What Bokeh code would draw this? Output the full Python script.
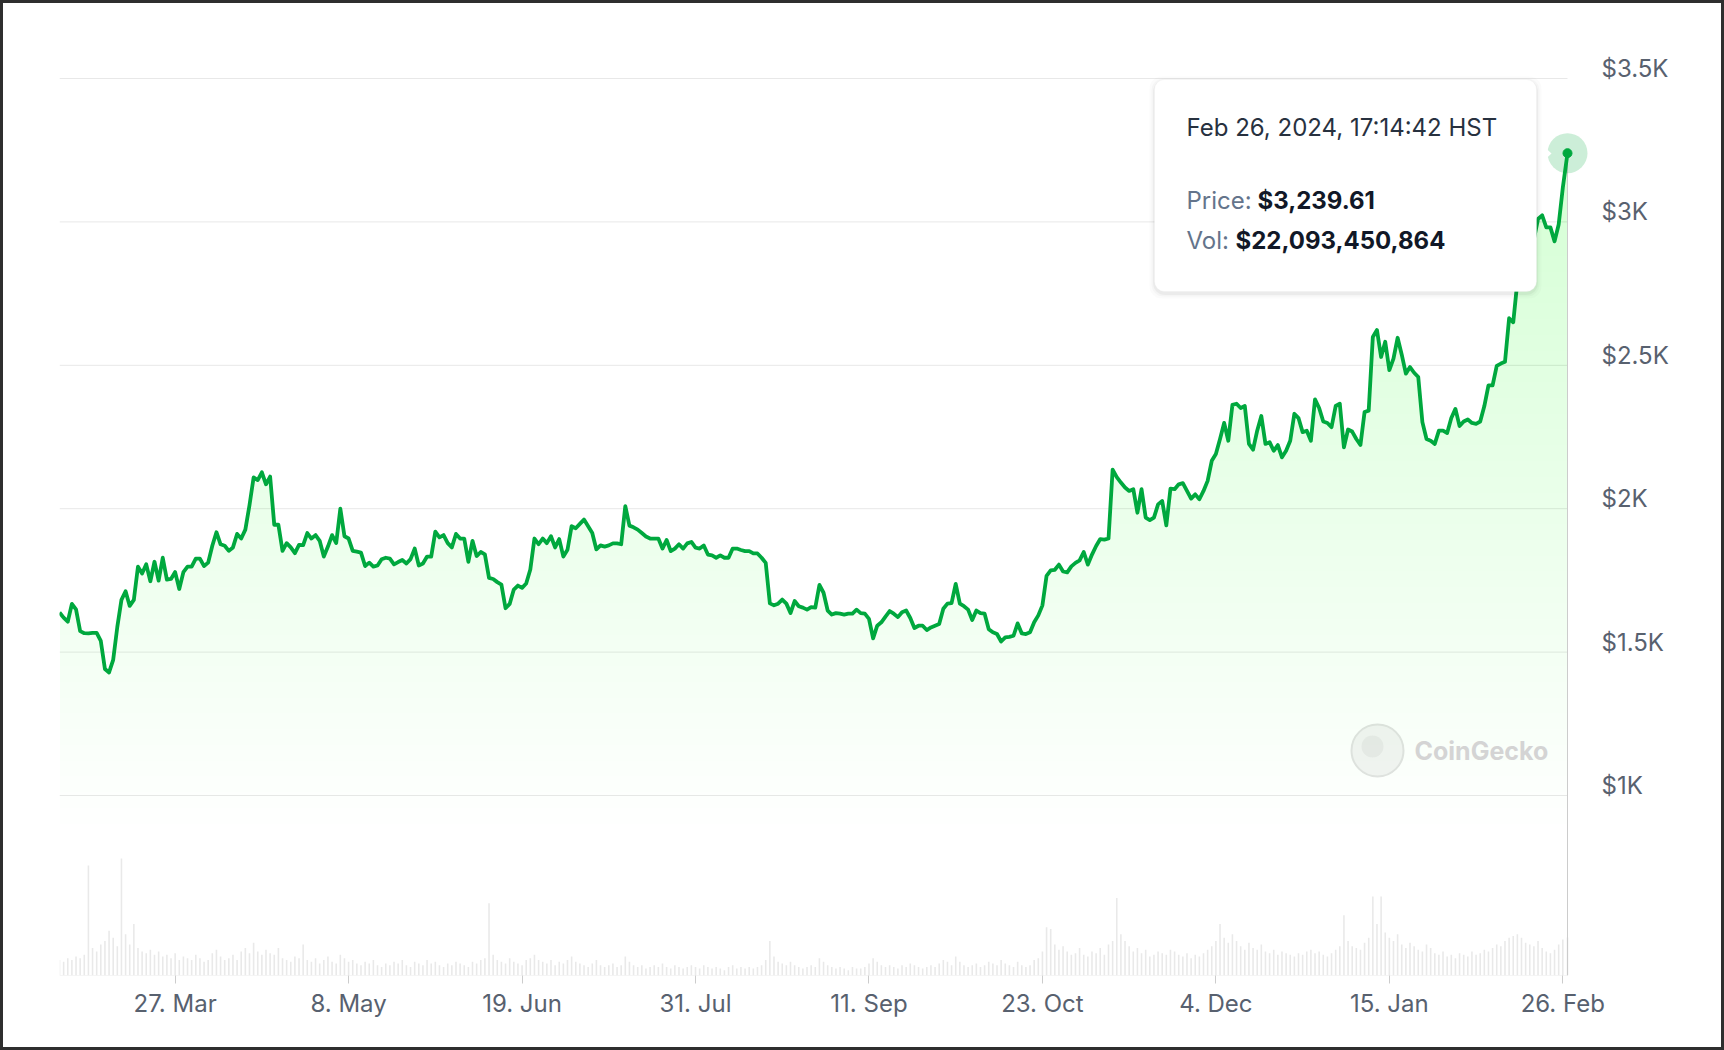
import numpy as np
from bokeh.plotting import figure
from bokeh.models import Range1d, FixedTicker, BoxAnnotation, Label, LinearAxis
from bokeh.embed import file_html
from bokeh.resources import INLINE

# ---------------- data ----------------
start_date = "2023-02-27"                 # first daily point (UTC)
last_stamp = "2024-02-27T03:14:42"        # = Feb 26, 2024, 17:14:42 HST
prices = [
    1638, 1620, 1606, 1668, 1649, 1573, 1566, 1565, 1567, 1567,
    1539, 1441, 1429, 1473, 1588, 1682, 1712, 1661, 1682, 1798,
    1774, 1806, 1747, 1815, 1749, 1829, 1753, 1755, 1779, 1720,
    1779, 1798, 1798, 1826, 1826, 1800, 1812, 1871, 1918, 1876,
    1871, 1853, 1865, 1912, 1896, 1927, 2012, 2109, 2100, 2127,
    2085, 2112, 1944, 1944, 1853, 1880, 1865, 1845, 1874, 1873,
    1915, 1896, 1908, 1888, 1833, 1868, 1908, 1880, 2000, 1904,
    1896, 1853, 1850, 1847, 1800, 1812, 1798, 1802, 1824, 1829,
    1826, 1806, 1814, 1821, 1809, 1824, 1861, 1802, 1809, 1833,
    1833, 1920, 1900, 1908, 1880, 1865, 1912, 1896, 1896, 1815,
    1888, 1835, 1849, 1841, 1759, 1755, 1744, 1735, 1653, 1668,
    1718, 1732, 1724, 1739, 1788, 1896, 1876, 1896, 1880, 1904,
    1865, 1894, 1833, 1857, 1939, 1932, 1947, 1962, 1939, 1915,
    1858, 1872, 1868, 1872, 1879, 1879, 1876, 2009, 1941, 1935,
    1927, 1915, 1903, 1896, 1896, 1896, 1861, 1891, 1852, 1861,
    1876, 1861, 1879, 1884, 1864, 1861, 1872, 1840, 1837, 1829,
    1837, 1829, 1829, 1861, 1861, 1856, 1852, 1852, 1844, 1844,
    1829, 1811, 1670, 1663, 1669, 1683, 1669, 1636, 1678, 1660,
    1655, 1648, 1657, 1655, 1734, 1707, 1645, 1631, 1636, 1634,
    1631, 1634, 1634, 1648, 1636, 1634, 1616, 1548, 1592, 1604,
    1624, 1643, 1634, 1622, 1639, 1645, 1619, 1584, 1592, 1592,
    1577, 1586, 1592, 1598, 1651, 1669, 1671, 1738, 1669, 1660,
    1648, 1612, 1645, 1636, 1634, 1580, 1569, 1563, 1537, 1551,
    1553, 1557, 1600, 1565, 1563, 1569, 1604, 1628, 1663, 1766,
    1785, 1787, 1805, 1781, 1778, 1799, 1811, 1820, 1849, 1805,
    1840, 1870, 1894, 1892, 1896, 2136, 2110, 2091, 2074, 2062,
    2068, 1986, 2068, 1969, 1960, 1969, 2015, 2027, 1942, 2070,
    2068, 2085, 2089, 2062, 2035, 2050, 2033, 2062, 2097, 2167,
    2191, 2243, 2299, 2237, 2362, 2366, 2351, 2358, 2226, 2206,
    2272, 2323, 2226, 2232, 2202, 2222, 2179, 2202, 2237, 2331,
    2316, 2267, 2272, 2237, 2381, 2351, 2304, 2299, 2284, 2358,
    2366, 2214, 2276, 2269, 2243, 2222, 2337, 2342, 2599, 2623,
    2529, 2582, 2483, 2523, 2596, 2537, 2471, 2494, 2474, 2459,
    2302, 2243, 2237, 2226, 2272, 2272, 2264, 2316, 2348, 2288,
    2304, 2311, 2299, 2296, 2304, 2358, 2430, 2430, 2498, 2506,
    2512, 2664, 2650, 2792, 2810, 2790, 2870, 2940, 3010, 3023,
    2981, 2981, 2932, 2991, 3119,
]
last_price = 3239.61
volumes_bn = [
    9, 8, 10, 9, 11, 10, 12, 64, 16, 14,
    18, 20, 26, 22, 17, 68, 24, 18, 30, 16,
    14, 13, 15, 12, 14, 11, 12, 10, 13, 9,
    11, 10, 9, 12, 10, 8, 9, 13, 15, 11,
    9, 10, 12, 9, 14, 16, 13, 19, 14, 12,
    15, 13, 12, 16, 10, 9, 8, 11, 10, 18,
    9, 8, 10, 7, 9, 11, 8, 7, 12, 10,
    8, 9, 7, 6, 8, 7, 9, 6, 5, 7,
    6, 8, 7, 9, 6, 5, 8, 7, 6, 9,
    7, 8, 6, 5, 7, 6, 8, 7, 6, 5,
    8, 7, 9, 10, 42, 12, 9, 8, 7, 10,
    8, 7, 6, 9, 10, 12, 9, 8, 7, 9,
    6, 8, 7, 9, 11, 8, 7, 6, 5, 7,
    9, 6, 5, 6, 7, 5, 6, 11, 8, 6,
    5, 6, 4, 5, 6, 5, 7, 5, 4, 6,
    5, 4, 5, 6, 5, 4, 6, 5, 4, 5,
    4, 3, 5, 6, 4, 5, 4, 5, 4, 5,
    6, 9, 20, 11, 8, 7, 6, 8, 6, 5,
    4, 5, 6, 5, 10, 8, 6, 5, 4, 5,
    4, 3, 5, 4, 4, 5, 7, 10, 8, 6,
    5, 6, 5, 4, 6, 5, 7, 6, 5, 4,
    5, 6, 5, 7, 9, 8, 6, 11, 8, 6,
    5, 6, 7, 5, 6, 8, 7, 6, 9, 7,
    6, 5, 8, 6, 5, 6, 9, 10, 14, 28,
    27, 18, 15, 17, 14, 12, 13, 16, 12, 11,
    14, 13, 16, 12, 18, 20, 45, 24, 20, 17,
    14, 16, 13, 15, 11, 12, 14, 13, 12, 15,
    14, 12, 11, 13, 10, 12, 11, 13, 15, 17,
    20, 30, 22, 19, 24, 20, 17, 15, 19, 16,
    15, 18, 14, 13, 15, 12, 14, 13, 12, 11,
    13, 12, 14, 15, 13, 14, 12, 11, 13, 15,
    17, 35, 20, 17, 16, 15, 19, 22, 46, 30,
    46, 25, 22, 20, 24, 18, 16, 19, 17, 15,
    14, 18, 16, 13, 12, 14, 11, 12, 10, 13,
    12, 11, 14, 12, 13, 15, 14, 16, 18, 17,
    20, 22, 23, 24, 22, 19, 18, 17, 20, 16,
    14, 13, 15, 18, 21,
]
last_volume_bn = 22.093450864
tick_dates = ["2023-03-27", "2023-05-08", "2023-06-19", "2023-07-31", "2023-09-11",
              "2023-10-23", "2023-12-04", "2024-01-15", "2024-02-26"]
tick_labels = ["27. Mar", "8. May", "19. Jun", "31. Jul", "11. Sep",
               "23. Oct", "4. Dec", "15. Jan", "26. Feb"]
price_ticks = [1000, 1500, 2000, 2500, 3000, 3500]
price_tick_labels = ["$1K", "$1.5K", "$2K", "$2.5K", "$3K", "$3.5K"]
tooltip_title = "Feb 26, 2024, 17:14:42 HST"
tooltip_price = "$3,239.61"
tooltip_vol = "$22,093,450,864"

# ---------------- build arrays ----------------
def to_ms(d):
    return float(np.datetime64(d, "ms").astype("int64"))

n = len(prices)
day0 = np.datetime64(start_date, "D")
daily = (day0 + np.arange(n)).astype("datetime64[ms]").astype("int64").astype(float)
xs = np.append(daily, to_ms(last_stamp))
ys = np.array(prices + [last_price], dtype=float)
vols = np.array(volumes_bn[:n] + [last_volume_bn], dtype=float)

GREEN = "#00a83e"
FILL_GREEN = "#2a8a4a"
FONT = "Inter"
AXIS_COLOR = "#58616f"

# ---------------- layout constants (page pixels) ----------------
ORIGIN = 3             # canvas offset inside the 3px frame border
W, H = 1724, 1050
PLOT_L, PLOT_END = 59, 1567          # first / last data point
FRAME_R = 1592                        # frame extends a little past the last point
FRAME_T, FRAME_B = 40, 975
GRID_TOP_PX, GRID_BOT_PX = 78, 795   # $3.5K and $1K gridlines
px_per_dollar = (GRID_BOT_PX - GRID_TOP_PX) / (price_ticks[-1] - price_ticks[0])
y_hi = price_ticks[-1] + (GRID_TOP_PX - FRAME_T) / px_per_dollar
y_lo = price_ticks[0] - (FRAME_B - GRID_BOT_PX) / px_per_dollar
ms_per_px = (xs[-1] - xs[0]) / (PLOT_END - PLOT_L)
x_lo = xs[0]
x_hi = xs[-1] + (FRAME_R - PLOT_END) * ms_per_px
vol_px = 38.0 / last_volume_bn           # px per $bn in the volume pane
vol_hi = (FRAME_B - FRAME_T) / vol_px
label_shift = 10 / px_per_dollar         # y labels sit ~10px above their gridline

def px2x(px):
    return x_lo + (px - PLOT_L) * ms_per_px

def py2y(py):
    return y_hi - (py - FRAME_T) / (FRAME_B - FRAME_T) * (y_hi - y_lo)

p = figure(width=W, height=H, x_axis_type="datetime", y_axis_location=None,
           x_range=Range1d(x_lo, x_hi), y_range=Range1d(y_lo, y_hi),
           output_backend="svg", toolbar_location=None, tools="")
p.min_border_left = PLOT_L - ORIGIN
p.min_border_top = FRAME_T - ORIGIN
p.min_border_right = W - (FRAME_R - ORIGIN)
p.min_border_bottom = H - (FRAME_B - ORIGIN)
p.outline_line_color = None
p.background_fill_color = "white"
p.border_fill_color = "white"
p.styles = {"border": "3px solid #2f2f2f"}
p.extra_y_ranges = {"vol": Range1d(0, vol_hi),
                    "lab": Range1d(y_lo - label_shift, y_hi - label_shift)}

# x axis
tick_ms = [to_ms(d) for d in tick_dates]
p.xaxis.ticker = FixedTicker(ticks=tick_ms)
p.xaxis.major_label_overrides = {t: l for t, l in zip(tick_ms, tick_labels)}
p.xaxis.major_tick_out = 8
p.xaxis.major_tick_in = 0
p.xaxis.minor_tick_line_color = None
p.xaxis.major_tick_line_color = "#cccccc"
p.xaxis.axis_line_color = None
p.xaxis.major_label_standoff = 5
p.xaxis.major_label_text_font = FONT
p.xaxis.major_label_text_font_size = "24px"
p.xaxis.major_label_text_color = AXIS_COLOR

# y axis (labels on the right)
yax = LinearAxis(y_range_name="lab", ticker=FixedTicker(ticks=price_ticks),
                 major_label_overrides={float(t): l for t, l in zip(price_ticks, price_tick_labels)})
yax.axis_line_color = None
yax.major_tick_line_color = None
yax.minor_tick_line_color = None
yax.major_tick_out = 0
yax.major_label_standoff = 1601 - FRAME_R
yax.major_label_text_font = FONT
yax.major_label_text_font_size = "24px"
yax.major_label_text_color = AXIS_COLOR
p.add_layout(yax, "right")

p.xgrid.visible = False
p.ygrid.visible = False

# horizontal gridlines of the price pane (end at the last point)
p.segment(x0=x_lo, x1=xs[-1], y0=price_ticks, y1=price_ticks,
          line_color="#e8e8e8", line_width=1)

# watermark
p.scatter([px2x(1377)], [py2y(750)], size=52, fill_color="#f3f3f3",
          line_color="#e2e2e2", line_width=2)
p.scatter([px2x(1372)], [py2y(746)], size=22, fill_color="#e9e9e9", line_color=None)

# volume bars + baseline
p.vbar(x=xs, top=vols, bottom=0, width=0.38 * 86400000, y_range_name="vol",
       fill_color="#e9e9e9", line_color=None)
p.segment(x0=[x_lo], x1=[xs[-1]], y0=[0], y1=[0], y_range_name="vol",
          line_color="#ececec", line_width=1)

# crosshair at hovered point
p.segment(x0=[xs[-1]], y0=[y_lo], x1=[xs[-1]], y1=[ys[-1]], line_color="#cccccc", line_width=1)

# gradient area (stacked translucent layers)
levels = np.arange(900, 3250, 55)
for lev in levels:
    p.varea(x=xs, y1=lev, y2=np.maximum(ys, lev), fill_color=FILL_GREEN, fill_alpha=0.0058)

# price line
p.line(xs, ys, line_color=GREEN, line_width=3.8, line_join="round")

# hovered point with halo
p.scatter([xs[-1]], [ys[-1]], size=40, fill_color=GREEN, fill_alpha=0.2, line_color=None)
p.scatter([xs[-1]], [ys[-1]], size=9, fill_color=GREEN, line_color=GREEN)

# tooltip
TT_L, TT_R, TT_T, TT_B = 1154, 1536, 79, 291
for k, a in [(5, 0.015), (3, 0.025), (1.5, 0.04)]:
    p.add_layout(BoxAnnotation(left=px2x(TT_L - k), right=px2x(TT_R + k),
                               top=py2y(TT_T - k + 2), bottom=py2y(TT_B + k + 2),
                               fill_color="black", fill_alpha=a, line_color=None,
                               border_radius=12))
p.add_layout(BoxAnnotation(left=px2x(TT_L), right=px2x(TT_R), top=py2y(TT_T), bottom=py2y(TT_B),
                           fill_color="white", fill_alpha=1.0, line_color="#ebebeb",
                           line_width=1, border_radius=10))
p.patch([px2x(1535), px2x(1551), px2x(1535)], [py2y(138), py2y(153), py2y(168)],
        fill_color="white", line_color=None)

def label(px, py, text, color, bold=False, size="24px"):
    p.add_layout(Label(x=px2x(px), y=py2y(py), text=text, text_font=FONT,
                       text_font_size=size, text_color=color, text_baseline="middle",
                       text_align="left", text_font_style="bold" if bold else "normal"))

label(1186, 127, tooltip_title, "#27313f")
label(1186, 200, "Price:", "#64748b")
label(1257, 200, tooltip_price, "#111827", bold=True)
label(1186, 240, "Vol:", "#64748b")
label(1235, 240, tooltip_vol, "#111827", bold=True)

# watermark text
label(1414, 750, "CoinGecko", "#d4d4d4", bold=True, size="25px")

open("out.html", "w").write(file_html(p, INLINE))
